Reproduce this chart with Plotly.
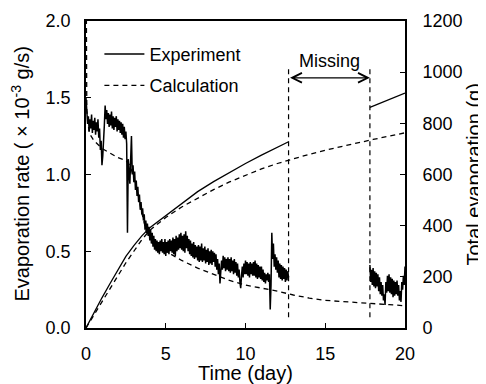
import plotly.graph_objects as go

# ---------------- data ----------------
# Experiment evaporation rate (x10^-3 g/s), sampled every 0.05 day
rate_step = 0.05
exp_rate_start1 = 0.0
exp_rate_vals1 = [
    1.50, 1.40, 1.33, 1.38, 1.28, 1.36, 1.30, 1.39, 1.27, 1.35,
    1.29, 1.37, 1.26, 1.34, 1.28, 1.36, 1.24, 1.30, 1.16, 1.22,
    1.06, 1.12, 1.20, 1.32, 1.45, 1.36, 1.42, 1.33, 1.40, 1.31,
    1.39, 1.32, 1.41, 1.30, 1.38, 1.29, 1.37, 1.31, 1.38, 1.28,
    1.36, 1.29, 1.35, 1.27, 1.34, 1.26, 1.33, 1.24, 1.31, 1.23,
    1.28, 1.20, 0.62, 1.10, 1.02, 0.94, 1.10, 1.25, 1.00, 1.06,
    0.95, 1.02, 0.90, 0.96, 0.86, 0.92, 0.82, 0.87, 0.77, 0.82,
    0.74, 0.78, 0.70, 0.74, 0.64, 0.70, 0.62, 0.68, 0.60, 0.66,
    0.57, 0.64, 0.55, 0.62, 0.53, 0.60, 0.51, 0.58, 0.50, 0.57,
    0.49, 0.56, 0.48, 0.57, 0.50, 0.58, 0.49, 0.56, 0.48, 0.58,
    0.47, 0.56, 0.49, 0.57, 0.48, 0.58, 0.50, 0.57, 0.49, 0.59,
    0.48, 0.58, 0.47, 0.60, 0.50, 0.59, 0.51, 0.61, 0.52, 0.62,
    0.51, 0.60, 0.50, 0.61, 0.49, 0.63, 0.52, 0.60, 0.50, 0.58,
    0.48, 0.57, 0.47, 0.55, 0.46, 0.56, 0.45, 0.54, 0.46, 0.53,
    0.44, 0.54, 0.43, 0.53, 0.44, 0.55, 0.43, 0.52, 0.44, 0.53,
    0.42, 0.51, 0.43, 0.52, 0.41, 0.50, 0.42, 0.51, 0.41, 0.50,
    0.43, 0.49, 0.40, 0.48, 0.38, 0.45, 0.35, 0.42, 0.29, 0.40,
    0.44, 0.38, 0.47, 0.39, 0.46, 0.37, 0.45, 0.38, 0.46, 0.37,
    0.45, 0.36, 0.46, 0.37, 0.44, 0.35, 0.45, 0.36, 0.43, 0.34,
    0.42, 0.33, 0.38, 0.30, 0.26, 0.34, 0.40, 0.33, 0.42, 0.35,
    0.44, 0.35, 0.43, 0.34, 0.42, 0.33, 0.43, 0.35, 0.42, 0.34,
    0.43, 0.34, 0.44, 0.33, 0.42, 0.32, 0.41, 0.33, 0.40, 0.32,
    0.40, 0.31, 0.38, 0.30, 0.36, 0.29, 0.35, 0.31, 0.36, 0.30,
    0.35, 0.12, 0.28, 0.62, 0.45, 0.55, 0.40, 0.48, 0.38, 0.46,
    0.36, 0.44, 0.33, 0.42, 0.32, 0.41, 0.31, 0.40, 0.32, 0.39,
    0.30, 0.38, 0.31, 0.37, 0.33,
]
exp_rate_start2 = 17.8
exp_rate_vals2 = [
    0.41, 0.30, 0.38, 0.28, 0.39, 0.27, 0.37, 0.26, 0.36, 0.27,
    0.35, 0.24, 0.33, 0.22, 0.30, 0.21, 0.28, 0.18, 0.22, 0.15,
    0.30, 0.23, 0.34, 0.24, 0.35, 0.23, 0.33, 0.22, 0.32, 0.20,
    0.31, 0.21, 0.30, 0.22, 0.31, 0.21, 0.28, 0.18, 0.24, 0.17,
    0.30, 0.25, 0.34, 0.28, 0.40,
]

# Calculated evaporation rate
calc_rate_t = [0, 0.05, 0.2, 0.5, 1, 1.5, 2, 2.5, 2.75, 3, 3.25, 3.5, 3.75, 4, 4.5, 5,
               6, 7, 8, 9, 10, 11, 12, 13, 14, 15, 16, 17, 18, 19, 20]
calc_rate_v = [2.6, 1.42, 1.27, 1.22, 1.17, 1.14, 1.11, 1.09, 1.06, 0.98, 0.88, 0.75, 0.64, 0.59, 0.54, 0.50,
               0.44, 0.39, 0.35, 0.31, 0.28, 0.26, 0.24, 0.215, 0.195, 0.18, 0.172, 0.166, 0.16, 0.152, 0.145]

# Total evaporation (g) - experiment (two segments) and calculation
exp_total_t1 = [0, 0.5, 1, 1.5, 2, 2.5, 3, 3.5, 4, 5, 6, 7, 8, 9, 10, 11, 11.6, 12, 12.7]
exp_total_v1 = [0, 62, 118, 173, 228, 280, 322, 360, 392, 438, 487, 533, 572, 608, 643, 676, 695, 706, 728]
exp_total_t2 = [17.8, 18.5, 19.2, 20]
exp_total_v2 = [862, 880, 898, 918]

calc_total_t = [0, 0.5, 1, 1.5, 2, 2.5, 3, 3.5, 4, 5, 6, 7, 8, 9, 10, 11, 12, 13, 14, 15, 16, 17, 18, 19, 20]
calc_total_v = [0, 52, 104, 155, 205, 255, 300, 345, 382, 432, 473, 508, 541, 571, 598, 622, 643, 662, 679,
                695, 710, 724, 737, 750, 763]

missing_start = 12.7
missing_end = 17.8
missing_line_bottom = 0.07
missing_line_top = 1.71
missing_arrow_y = 1.63
missing_label_y = 1.74

x_ticks = [0, 5, 10, 15, 20]

x_title = "Time (day)"
y_title = "Evaporation rate ( × 10<sup>-3</sup> g/s)"
y2_title = "Total evaporation (g)"

exp_rate_t1 = [round(exp_rate_start1 + rate_step * i, 3) for i in range(len(exp_rate_vals1))]
exp_rate_t2 = [round(exp_rate_start2 + rate_step * i, 3) for i in range(len(exp_rate_vals2))]

FONT = "Liberation Sans, Arial, sans-serif"
FS = 18
FT = 20
solid = dict(color="black", width=1.3)
rate_solid = dict(color="black", width=1.5)
dashed = dict(color="black", width=1.3, dash="5px,4px")

fig = go.Figure()
fig.add_trace(go.Scatter(x=exp_rate_t1, y=exp_rate_vals1, mode="lines", line=rate_solid,
                         name="Experiment", legendgroup="exp", showlegend=True))
fig.add_trace(go.Scatter(x=exp_rate_t2, y=exp_rate_vals2, mode="lines", line=rate_solid,
                         name="Experiment", legendgroup="exp", showlegend=False))
fig.add_trace(go.Scatter(x=calc_rate_t, y=calc_rate_v, mode="lines", line=dashed,
                         name="Calculation", legendgroup="calc", showlegend=True))
fig.add_trace(go.Scatter(x=exp_total_t1, y=exp_total_v1, mode="lines", line=solid, yaxis="y2",
                         name="Experiment", legendgroup="exp", showlegend=False))
fig.add_trace(go.Scatter(x=exp_total_t2, y=exp_total_v2, mode="lines", line=solid, yaxis="y2",
                         name="Experiment", legendgroup="exp", showlegend=False))
fig.add_trace(go.Scatter(x=calc_total_t, y=calc_total_v, mode="lines", line=dashed, yaxis="y2",
                         name="Calculation", legendgroup="calc", showlegend=False))

for xm in (missing_start, missing_end):
    fig.add_shape(type="line", xref="x", yref="y", x0=xm, x1=xm,
                  y0=missing_line_bottom, y1=missing_line_top,
                  line=dict(color="black", width=1.2, dash="5px,4px"))

fig.add_annotation(x=missing_end, y=missing_arrow_y, ax=missing_start, ay=missing_arrow_y,
                   xref="x", yref="y", axref="x", ayref="y", text="", showarrow=True,
                   arrowhead=5, startarrowhead=5, arrowside="end+start", arrowsize=1.6,
                   startarrowsize=1.6, arrowwidth=1.2, arrowcolor="black")
fig.add_annotation(x=(missing_start + missing_end) / 2, y=missing_label_y, xref="x", yref="y",
                   text="Missing", showarrow=False, font=dict(size=FS, color="black", family=FONT))

# axis titles placed as annotations for exact positioning
title_font = dict(size=FT, color="black", family=FONT)
fig.add_annotation(x=0.5, y=0, xref="paper", yref="paper", yshift=-45, xanchor="center",
                   yanchor="middle", text=x_title, showarrow=False, font=title_font)
fig.add_annotation(x=0, y=0.5, xref="paper", yref="paper", xshift=-66, xanchor="center",
                   yanchor="middle", text=y_title, textangle=-90, showarrow=False, font=title_font)
fig.add_annotation(x=1, y=0.5, xref="paper", yref="paper", xshift=68, xanchor="center",
                   yanchor="middle", text=y2_title, textangle=-90, showarrow=False, font=title_font)

axis_common = dict(showgrid=False, zeroline=False, showline=True, linecolor="black", linewidth=1.6,
                   ticks="inside", ticklen=5, tickwidth=1.3, tickcolor="black",
                   tickfont=dict(size=FS, color="black", family=FONT))

# the page body adds an 8px offset, so the figure is sized 8px smaller
fig.update_layout(
    width=478, height=376,
    margin=dict(l=78, r=81, t=13, b=56),
    paper_bgcolor="white", plot_bgcolor="white",
    font=dict(family=FONT, size=FS, color="black"),
    xaxis=dict(range=[0, 20], tickvals=x_ticks, mirror=True, automargin=False,
               ticklabelstandoff=9, **axis_common),
    yaxis=dict(range=[0, 2], dtick=0.5, tickformat=".1f", automargin=False, ticklabelstandoff=10,
               **axis_common),
    yaxis2=dict(range=[0, 1200], dtick=200, overlaying="y", side="right", automargin=False,
                ticklabelstandoff=12, **axis_common),
    legend=dict(x=0.042, y=0.952, xanchor="left", yanchor="top", bgcolor="rgba(0,0,0,0)",
                font=dict(size=FS, family=FONT), tracegroupgap=5, itemwidth=40),
    showlegend=True,
)

fig.write_html("out.html")
